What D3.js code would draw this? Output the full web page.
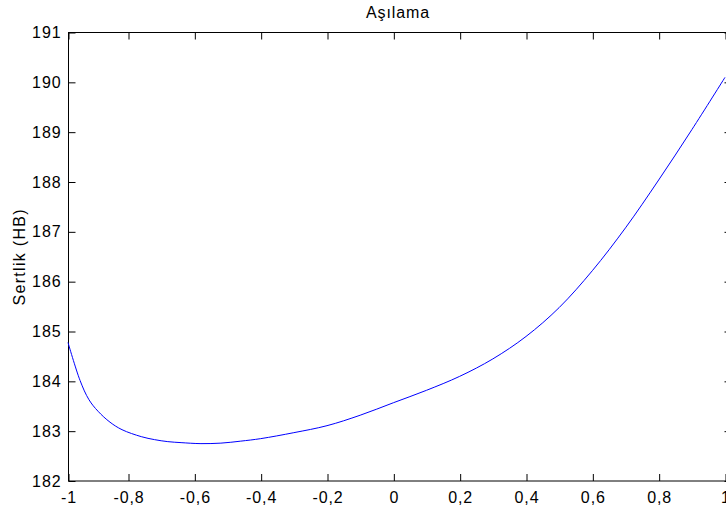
<!DOCTYPE html>
<html>
<head>
<meta charset="utf-8">
<script src="https://cdn.jsdelivr.net/npm/d3@7"></script>
<style>
  html, body { margin: 0; padding: 0; background: #fff; }
  svg { display: block; }
  text { font-family: "Liberation Sans", Arial, sans-serif; fill: #000; }
</style>
</head>
<body>
<svg id="chart" width="726" height="510"></svg>
<script>
// Hardness response curve
const xValues = [-1, -0.96, -0.93, -0.9, -0.86, -0.82, -0.76, -0.72, -0.68, -0.64, -0.58, -0.52, -0.46,
                 -0.4, -0.3, -0.2, -0.1, 0, 0.1, 0.2, 0.3, 0.4, 0.5, 0.6, 0.7, 0.8, 0.9, 1];
const hardness = [184.78, 184.02, 183.63, 183.40, 183.18, 183.03, 182.89, 182.83, 182.79, 182.77, 182.75, 182.76, 182.80,
                  182.85, 182.97, 183.11, 183.32, 183.57, 183.82, 184.10, 184.45, 184.90, 185.48, 186.22, 187.08, 188.04, 189.05, 190.10];
const xTicks = [-1, -0.8, -0.6, -0.4, -0.2, 0, 0.2, 0.4, 0.6, 0.8, 1];
const yTicks = [182, 183, 184, 185, 186, 187, 188, 189, 190, 191];
const titleText = "Aşılama";
const yLabelText = "Sertlik (HB)";

const svg = d3.select("#chart");
const plotLeft = 68, plotRight = 731, plotTop = 32.5, plotBottom = 481;

const x = d3.scaleLinear().domain([-1, -0.8, 1]).range([plotLeft, 128, 725]);
const y = d3.scaleLinear().domain([182, 191]).range([plotBottom, plotTop]);

const fmt = v => String(v).replace(".", ",");
const fontSize = 16;
const spacing = "0.9px";

// frame
const g = svg.append("g");
g.append("rect")
  .attr("x", plotLeft + 0.5).attr("y", plotTop)
  .attr("width", plotRight - plotLeft).attr("height", plotBottom - plotTop)
  .attr("fill", "none").attr("stroke", "#000").attr("stroke-width", 1);

function styleLabels(sel) {
  sel.selectAll("text")
    .attr("font-size", fontSize)
    .attr("font-family", "Liberation Sans, Arial, sans-serif")
    .attr("letter-spacing", spacing)
    .attr("fill", "#000");
}

// bottom axis with inward ticks, plus top ticks
const xAxisB = d3.axisBottom(x).tickValues(xTicks).tickSizeInner(-7).tickSizeOuter(0)
  .tickPadding(11).tickFormat(fmt);
const gx = g.append("g").attr("transform", `translate(0.5,${plotBottom})`).call(xAxisB);
gx.select(".domain").remove();
styleLabels(gx);

const xAxisT = d3.axisTop(x).tickValues(xTicks).tickSizeInner(-7).tickSizeOuter(0).tickFormat("");
const gxt = g.append("g").attr("transform", `translate(0.5,${plotTop})`).call(xAxisT);
gxt.select(".domain").remove();

// left axis with inward ticks, plus right ticks
const yAxisL = d3.axisLeft(y).tickValues(yTicks).tickSizeInner(-7).tickSizeOuter(0)
  .tickPadding(7).tickFormat(d3.format("d"));
const gy = g.append("g").attr("transform", `translate(${plotLeft + 0.5},0)`).call(yAxisL);
gy.select(".domain").remove();
styleLabels(gy);

const yAxisR = d3.axisRight(y).tickValues(yTicks).tickSizeInner(-7).tickSizeOuter(0).tickFormat("");
const gyr = g.append("g").attr("transform", `translate(${plotRight + 0.5},0)`).call(yAxisR);
gyr.select(".domain").remove();

g.selectAll(".tick line").attr("stroke", "#000");

// curve
const line = d3.line().x((d, i) => x(xValues[i])).y(d => y(d)).curve(d3.curveCatmullRom.alpha(0.5));
g.append("path")
  .datum(hardness)
  .attr("d", line)
  .attr("fill", "none")
  .attr("stroke", "#0000ff")
  .attr("stroke-width", 1);

// title
svg.append("text")
  .attr("x", 398).attr("y", 18)
  .attr("text-anchor", "middle")
  .attr("font-size", fontSize)
  .attr("letter-spacing", spacing)
  .text(titleText);

// y label
svg.append("text")
  .attr("transform", `translate(25,${(plotTop + plotBottom) / 2}) rotate(-90)`)
  .attr("text-anchor", "middle")
  .attr("font-size", fontSize)
  .attr("letter-spacing", "1.3px")
  .text(yLabelText);
</script>
</body>
</html>
